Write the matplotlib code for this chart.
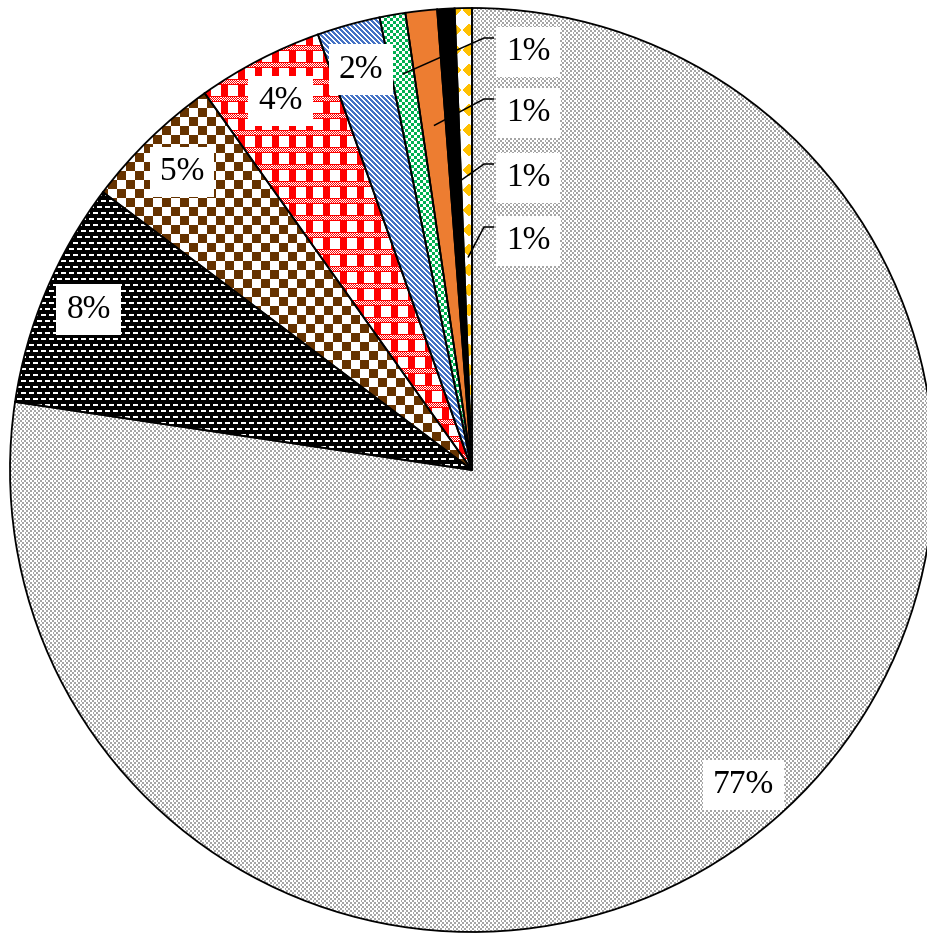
import numpy as np
import matplotlib
matplotlib.use('Agg')
import matplotlib.pyplot as plt

W, H = 928, 936
cx, cy, R = 472, 470, 462   # pie centre and radius in pixels

# shares, clockwise from 12 o'clock
fills = ['grey', 'dashes', 'brown', 'plaid', 'blue', 'green', 'orange', 'black', 'yellow']
values = [77.2, 7.9, 4.9, 4.4, 2.2, 0.9, 1.1, 0.6, 0.6]

# the four thin slices get their labels pulled out to the right
small_idx = [5, 6, 7, 8]
small_label_y = [52, 113, 178, 241]      # pixel rows of the side labels
small_point_r = [0.87, 0.75, 0.62, 0.46]  # where each leader line touches its slice


def rgb(h):
    h = h.lstrip('#')
    return np.array([int(h[i:i + 2], 16) for i in (0, 2, 4)], dtype=np.uint8)


WHITE = rgb('#ffffff')


def blank(h, w, col=WHITE):
    t = np.empty((h, w, 3), dtype=np.uint8)
    t[:] = col
    return t


def tile_grey():
    g = rgb('#a5a5a5')
    t = blank(8, 8)
    r, c = np.mgrid[0:8, 0:8]
    t[((r // 2 + c // 2) % 2) == 0] = g
    t[0:2, 2:5] = WHITE
    t[4:6, 6:8] = WHITE
    t[4:6, 0:1] = WHITE
    return t


def tile_dashes():
    t = blank(12, 8, rgb('#000000'))
    t[2:4, 1:6] = WHITE
    t[8:10, 5:8] = WHITE
    t[8:10, 0:2] = WHITE
    return t


def tile_checker(n, col):
    t = blank(2 * n, 2 * n)
    t[:n, :n] = col
    t[n:, n:] = col
    return t


def tile_plaid():
    red = rgb('#ff0000')
    t = blank(17, 17)
    t[:, 0:7] = red
    r, c = np.mgrid[0:6, 0:17]
    band = blank(6, 17)
    band[((r + c) % 2) == 0] = red
    band[0] = red
    band[5] = red
    t[11:17] = band
    return t


def tile_blue():
    t = blank(5, 5)
    r, c = np.mgrid[0:5, 0:5]
    t[((c - r) % 5) < 3] = rgb('#4472c4')
    return t


def tile_diamonds():
    t = blank(20, 14)
    r, c = np.mgrid[0:20, 0:14]
    t[(np.abs(r - 9.5) + np.abs(c - 6.5)) <= 6.5] = rgb('#ffc000')
    return t


tiles = {
    'grey': tile_grey(),
    'dashes': tile_dashes(),
    'brown': tile_checker(9, rgb('#663300')),
    'plaid': tile_plaid(),
    'blue': tile_blue(),
    'green': tile_checker(3, rgb('#00b050')),
    'orange': blank(1, 1, rgb('#ed7d31')),
    'black': blank(1, 1, rgb('#000000')),
    'yellow': tile_diamonds(),
}


def texture(tile):
    th, tw = tile.shape[:2]
    return np.tile(tile, (H // th + 1, W // tw + 1, 1))[:H, :W]


plt.rcParams['font.family'] = ['Liberation Serif', 'DejaVu Serif']

fig = plt.figure(figsize=(W / 100, H / 100), dpi=100)
ax = fig.add_axes([0, 0, 1, 1])
xlim = (-cx / R, (W - cx) / R)
ylim = (-(H - cy) / R, cy / R)

wedges, _, pcts = ax.pie(
    values, startangle=90, counterclock=False, radius=1,
    autopct='%.0f%%', pctdistance=0.9,
    wedgeprops=dict(facecolor='none', edgecolor='black', linewidth=1.3, zorder=2),
    textprops=dict(fontsize=24, color='black'))

for w, name in zip(wedges, fills):
    im = ax.imshow(texture(tiles[name]), extent=(xlim[0], xlim[1], ylim[0], ylim[1]),
                   origin='upper', interpolation='nearest', zorder=1)
    im.set_clip_path(w)

for t in pcts:
    t.set_zorder(5)
    t.set_bbox(dict(boxstyle='square,pad=0.3', fc='white', ec='none'))

# side labels with leader lines for the thin slices
lab_x = (528 - cx) / R
for i, py, rr in zip(small_idx, small_label_y, small_point_r):
    ly = (cy - py) / R
    pcts[i].set_position((lab_x, ly))
    pcts[i].set_ha('center')
    pcts[i].set_va('center')
    w = wedges[i]
    mid = np.deg2rad((w.theta1 + w.theta2) / 2)
    px, pyy = rr * np.cos(mid), rr * np.sin(mid)
    hy = ly + 14 / R
    ax.plot([(494 - cx) / R, (484 - cx) / R, px], [hy, hy, pyy],
            color='black', lw=1.1, zorder=4, solid_capstyle='butt')

ax.set_aspect('auto')
ax.set_xlim(*xlim)
ax.set_ylim(*ylim)
ax.axis('off')

fig.savefig('out.png', dpi=100)
